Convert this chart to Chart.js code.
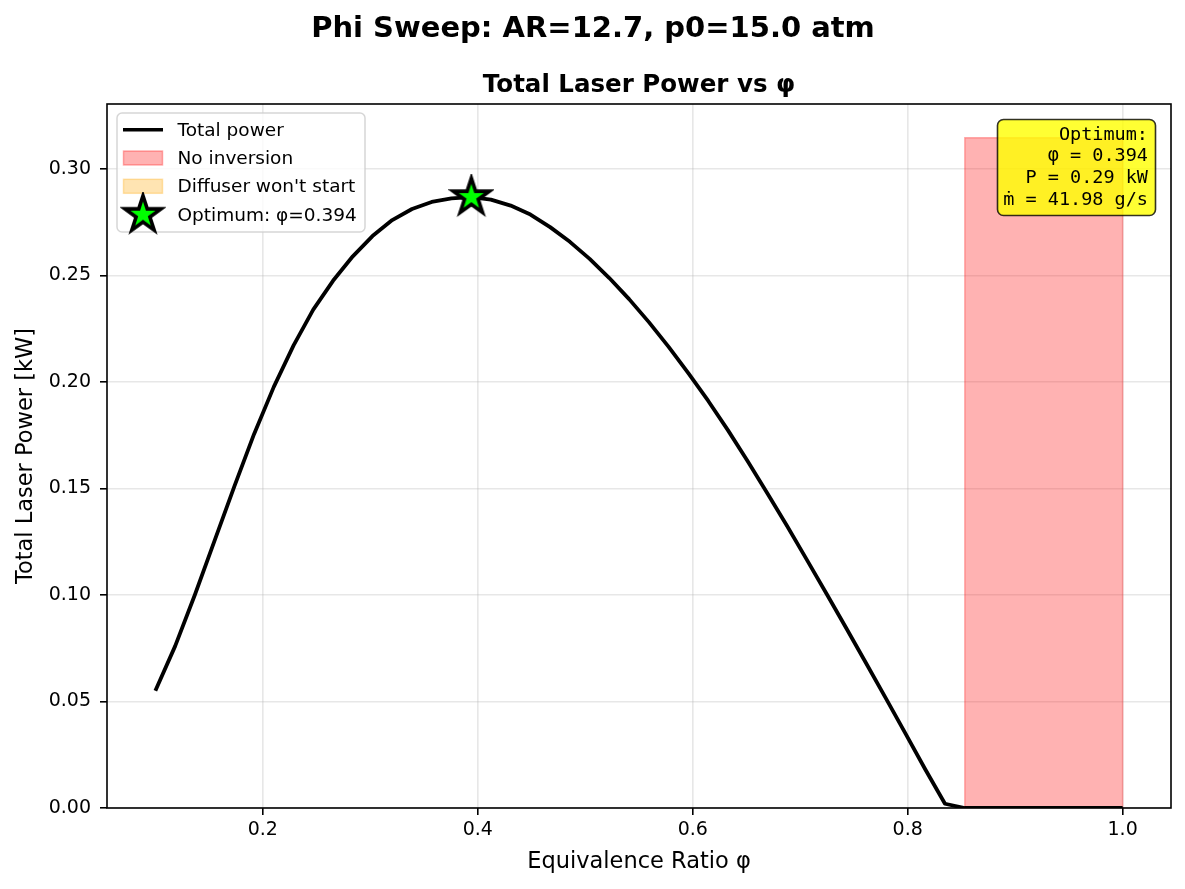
<!DOCTYPE html>
<html>
<head>
<meta charset="utf-8">
<script src="https://cdn.jsdelivr.net/npm/chart.js@4"></script>
<style>
  html,body{margin:0;padding:0;background:#fff;}
  #wrap{width:1185px;height:889px;}
</style>
</head>
<body>
<div id="wrap"><canvas id="c" width="1185" height="889"></canvas></div>
<script>
// data
const phi = [0.1000,0.1184,0.1367,0.1551,0.1735,0.1918,0.2102,0.2286,0.2469,0.2653,
             0.2837,0.3020,0.3204,0.3388,0.3571,0.3755,0.3939,0.4122,0.4306,0.4490,
             0.4673,0.4857,0.5041,0.5224,0.5408,0.5592,0.5776,0.5959,0.6143,0.6327,
             0.6510,0.6694,0.6878,0.7061,0.7245,0.7429,0.7612,0.7796,0.7980,0.8163,
             0.8347,0.8531,0.8714,0.8898,0.9082,0.9265,0.9449,0.9633,0.9816,1.0000];
const power = [0.0550,0.0760,0.1000,0.1255,0.1510,0.1755,0.1977,0.2172,0.2340,0.2475,
               0.2590,0.2685,0.2760,0.2812,0.2845,0.2862,0.2868,0.2856,0.2828,0.2786,
               0.2727,0.2658,0.2578,0.2488,0.2389,0.2281,0.2165,0.2042,0.1912,0.1774,
               0.1629,0.1478,0.1324,0.1166,0.1006,0.0844,0.0681,0.0516,0.0349,0.0182,
               0.0020,0,0,0,0,0,0,0,0,0];
const noInversion = [0,0,0,0,0,0,0,0,0,0, 0,0,0,0,0,0,0,0,0,0, 0,0,0,0,0,0,0,0,0,0,
                     0,0,0,0,0,0,0,0,0,0, 0,1,1,1,1,1,1,1,1,1];
const regionTop = 0.3146;
const optPhi = [0.394];
const optPower = [0.2868];
const optFlow = 41.98;
const xTicks = [0.2,0.4,0.6,0.8,1.0];
const yTicks = [0,0.05,0.10,0.15,0.20,0.25,0.30];

const FONT = "'DejaVu Sans', sans-serif";
const MONO = "'DejaVu Sans Mono', monospace";

function makeStar(r, lw) {
  const s = Math.ceil(2*r + lw + 4);
  const c = document.createElement('canvas');
  c.width = c.height = s;
  const g = c.getContext('2d');
  g.translate(s/2, s/2);
  g.beginPath();
  for (let i = 0; i < 10; i++) {
    const a = -Math.PI/2 + i*Math.PI/5;
    const rr = i % 2 ? r*0.382 : r;
    g.lineTo(rr*Math.cos(a), rr*Math.sin(a));
  }
  g.closePath();
  g.fillStyle = '#00ff00';
  g.fill();
  g.lineJoin = 'miter';
  g.lineWidth = lw;
  g.strokeStyle = '#000';
  g.stroke();
  return c;
}
const star = makeStar(19, 3.6);

// red band where there is no inversion
const inv = phi.filter((x,i)=>noInversion[i]);
const bandData = [{x:inv[0], y:0}, ...inv.map(x=>({x, y:regionTop})), {x:inv[inv.length-1], y:0}];

const frame = {
  id: 'frame',
  afterDraw(chart) {
    const {ctx, chartArea:a} = chart;
    ctx.save();
    // axes box
    ctx.strokeStyle = '#000'; ctx.lineWidth = 1.6;
    ctx.strokeRect(a.left, a.top, a.right-a.left, a.bottom-a.top);

    // titles
    ctx.fillStyle = '#000';
    ctx.textAlign = 'center'; ctx.textBaseline = 'alphabetic';
    ctx.font = `bold 29px ${FONT}`;
    ctx.fillText('Phi Sweep: AR=12.7, p0=15.0 atm', 593, 37);
    ctx.font = `bold 24.5px ${FONT}`;
    ctx.fillText('Total Laser Power vs φ', (a.left+a.right)/2, 92);

    // legend
    const lx = 117, ly = 113, lw = 248, lh = 119;
    ctx.beginPath(); ctx.roundRect(lx, ly, lw, lh, 5);
    ctx.fillStyle = 'rgba(255,255,255,0.8)'; ctx.fill();
    ctx.strokeStyle = 'rgba(204,204,204,0.8)'; ctx.lineWidth = 1.5; ctx.stroke();
    const rows = [129.7, 158, 186.3, 214.7];
    ctx.strokeStyle = '#000'; ctx.lineWidth = 3.6;
    ctx.beginPath(); ctx.moveTo(123, rows[0]); ctx.lineTo(163, rows[0]); ctx.stroke();
    ctx.lineWidth = 1.5;
    ctx.fillStyle = 'rgba(255,0,0,0.3)'; ctx.strokeStyle = 'rgba(255,0,0,0.3)';
    ctx.fillRect(123.5, rows[1]-7, 39, 14); ctx.strokeRect(123.5, rows[1]-7, 39, 14);
    ctx.fillStyle = 'rgba(255,165,0,0.3)'; ctx.strokeStyle = 'rgba(255,165,0,0.3)';
    ctx.fillRect(123.5, rows[2]-7, 39, 14); ctx.strokeRect(123.5, rows[2]-7, 39, 14);
    ctx.drawImage(star, 143 - star.width/2, rows[3] - star.height/2);
    ctx.fillStyle = '#000';
    ctx.font = `18.5px ${FONT}`;
    ctx.textAlign = 'left'; ctx.textBaseline = 'middle';
    ['Total power','No inversion',"Diffuser won't start",`Optimum: φ=${optPhi[0].toFixed(3)}`]
      .forEach((t,i)=>ctx.fillText(t, 177.5, rows[i]+1));

    // optimum annotation box
    ctx.beginPath(); ctx.roundRect(997.5, 119.5, 158, 96, 6);
    ctx.fillStyle = 'rgba(255,255,0,0.8)'; ctx.fill();
    ctx.strokeStyle = 'rgba(0,0,0,0.8)'; ctx.lineWidth = 1.6; ctx.stroke();
    ctx.fillStyle = '#000';
    ctx.font = `18.5px ${MONO}`;
    ctx.textAlign = 'right'; ctx.textBaseline = 'alphabetic';
    const lines = ['Optimum:', `φ = ${optPhi[0].toFixed(3)}`, `P = ${optPower[0].toFixed(2)} kW`, `ṁ = ${optFlow.toFixed(2)} g/s`];
    lines.forEach((t,i)=>ctx.fillText(t, 1148, 139.5 + i*21.7));
    ctx.restore();
  }
};

Chart.defaults.font.family = FONT;
Chart.defaults.color = '#000';

new Chart(document.getElementById('c'), {
  type: 'line',
  data: {
    datasets: [
      { label: 'Total power', data: phi.map((x,i)=>({x, y:power[i]})),
        borderColor: '#000', borderWidth: 3.8, pointRadius: 0, tension: 0, fill: false, order: 2,
        borderJoinStyle: 'round', borderCapStyle: 'butt' },
      { label: 'No inversion', data: bandData,
        borderColor: 'rgba(255,0,0,0.3)', backgroundColor: 'rgba(255,0,0,0.3)', borderWidth: 1.5,
        pointRadius: 0, tension: 0, fill: 'origin', order: 3 },
      { label: 'Optimum', data: optPhi.map((x,i)=>({x, y:optPower[i]})),
        pointStyle: star, pointRadius: 20, showLine: false, order: 1 }
    ]
  },
  options: {
    responsive: false, animation: false,
    layout: { autoPadding: false, padding: { top: 104, right: 14, left: 0, bottom: 0 } },
    plugins: { legend: { display: false }, tooltip: { enabled: false } },
    scales: {
      x: {
        type: 'linear', min: 0.055, max: 1.045,
        afterFit: s => { s.height = 81; s.paddingLeft = 0; s.paddingRight = 0; },
        afterBuildTicks: s => { s.ticks = xTicks.map(v=>({value:v})); },
        ticks: { font: { size: 19 }, padding: 4, maxRotation: 0, callback: v => v.toFixed(1) },
        grid: { color: 'rgba(176,176,176,0.3)', lineWidth: 1.6, tickColor: '#000', tickLength: 7, tickWidth: 1.6 },
        border: { display: false },
        title: { display: true, text: 'Equivalence Ratio φ', font: { size: 22.5 }, padding: { top: 0, bottom: 13 } }
      },
      y: {
        type: 'linear', min: 0, max: 0.3305,
        afterFit: s => { s.width = 107; s.paddingTop = 0; s.paddingBottom = 0; },
        afterBuildTicks: s => { s.ticks = yTicks.map(v=>({value:v})); },
        ticks: { font: { size: 19 }, padding: 9, callback: v => v.toFixed(2) },
        grid: { color: 'rgba(176,176,176,0.3)', lineWidth: 1.6, tickColor: '#000', tickLength: 7, tickWidth: 1.6 },
        border: { display: false },
        title: { display: true, text: 'Total Laser Power [kW]', font: { size: 22.5 }, padding: { top: 13, bottom: 0 } }
      }
    }
  },
  plugins: [frame]
});
</script>
</body>
</html>
